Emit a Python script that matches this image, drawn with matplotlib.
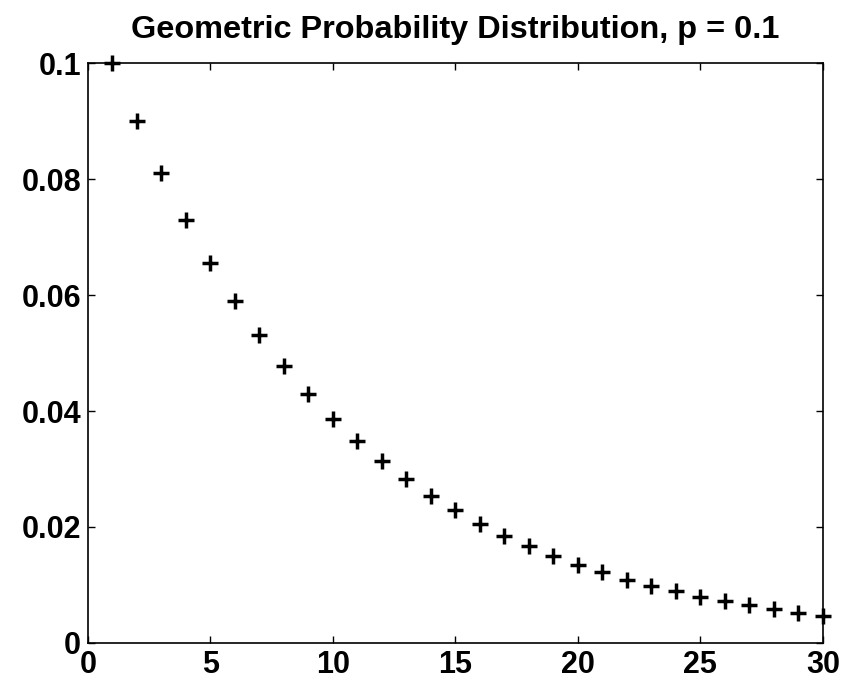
import numpy as np
import matplotlib.pyplot as plt

# geometric pmf values for p = 0.1, trials 1..30
k = list(range(1, 31))
prob = [0.1, 0.09, 0.081, 0.0729, 0.0656, 0.0590, 0.0531, 0.0478, 0.0430, 0.0387,
        0.0349, 0.0314, 0.0282, 0.0254, 0.0229, 0.0206, 0.0185, 0.0167, 0.0150, 0.0135,
        0.0122, 0.0109, 0.0098, 0.0089, 0.0080, 0.0072, 0.0065, 0.0058, 0.0052, 0.0047]
xticks = [0, 5, 10, 15, 20, 25, 30]
yticks = [0, 0.02, 0.04, 0.06, 0.08, 0.1]
yticklabels = ["0", "0.02", "0.04", "0.06", "0.08", "0.1"]

plt.rcParams['font.family'] = ['Liberation Sans', 'DejaVu Sans']
plt.rcParams['font.weight'] = 'bold'

fig = plt.figure(figsize=(8.5, 6.82), dpi=100)
ax = fig.add_axes([0.1035, 0.0572, 0.8645, 0.8504])

ax.plot(k, prob, linestyle='none', marker='+', color='black',
        markersize=12, markeredgewidth=2.5, clip_on=False)

ax.set_xlim(0, 30)
ax.set_ylim(0, 0.1)
ax.set_xticks(xticks)
ax.set_yticks(yticks)
ax.set_yticklabels(yticklabels)
ax.tick_params(direction='in', length=5, width=1, top=True, right=True,
               labelsize=22, pad=5)
for lab in ax.get_xticklabels() + ax.get_yticklabels():
    lab.set_fontweight('bold')
for s in ax.spines.values():
    s.set_linewidth(1.2)

ax.set_title("Geometric Probability Distribution, p = 0.1", fontsize=23.4,
             fontweight='bold', pad=18)

fig.savefig("out.png", dpi=100)
